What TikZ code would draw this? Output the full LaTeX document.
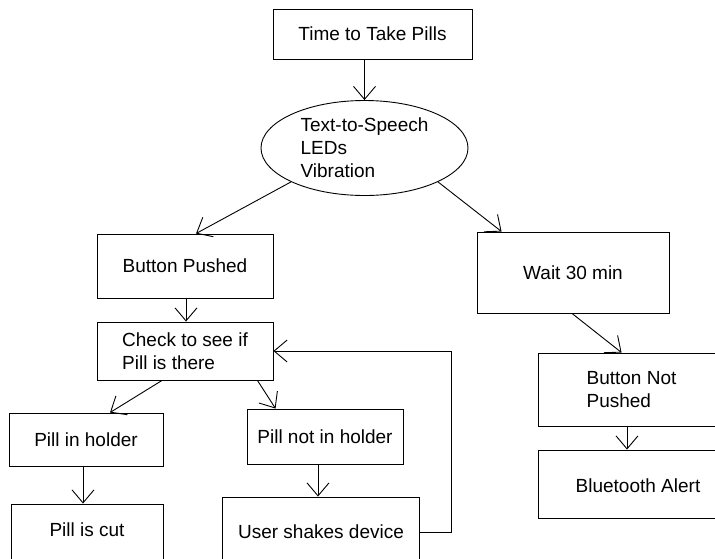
\documentclass[tikz,border=0pt]{standalone}
\usepackage{fontspec}
\setmainfont{Liberation Sans}
\usetikzlibrary{shapes.geometric,arrows.meta}
\begin{document}
\begin{tikzpicture}[x=1pt,y=-1pt,
  every node/.style={font=\fontsize{19}{23}\selectfont, inner sep=0pt},
  box/.style={draw, line width=0.9pt, rectangle},
  txt/.style={},
  conn/.style={line width=0.9pt, -{Straight Barb[length=13pt,width=22pt,line width=0.9pt]}},
  line/.style={line width=0.9pt}]
\useasboundingbox (0,0) rectangle (715,558);
\clip (0,0) rectangle (715,558);
\fill[white] (0,0) rectangle (715,558);

\node[box, minimum width=199, minimum height=50] (time) at (372.5,34) {Time to Take Pills};
\node[draw, line width=0.9pt, ellipse, minimum width=207, minimum height=95, align=left] (ell) at (364.5,148) {Text-to-Speech\\LEDs\\Vibration};

\node[box, minimum width=176, minimum height=64] (bp) at (185,266) {Button Pushed};
\node[box, minimum width=176, minimum height=58, align=left] (check) at (185,351) {Check to see if\\Pill is there};
\node[box, minimum width=154, minimum height=53] (holder) at (86,439.5) {Pill in holder};
\node[box, minimum width=152, minimum height=80] (cut) at (87,544) {};
\node[txt] (cuttxt) at (87,530) {Pill is cut};
\node[box, minimum width=156, minimum height=55] (notin) at (325,436.5) {Pill not in holder};
\node[box, minimum width=197, minimum height=80] (shake) at (320.5,537) {};
\node[txt] (shaketxt) at (321,532) {User shakes device};

\node[box, minimum width=192, minimum height=81] (wait) at (573,272.5) {Wait 30 min};
\node[box, minimum width=187, minimum height=73, align=left] (bnp) at (631.5,389.5) {Button Not\\Pushed};
\node[box, minimum width=187, minimum height=68] (bt) at (631.5,484) {};
\node[txt] (bttxt) at (638,486) {Bluetooth Alert};

\draw[conn] (time.south -| ell.north) -- (ell.north);
\draw[conn] (ell.south west) -- ([xshift=11pt]bp.north);
\draw[conn] (ell.south east) -- ([xshift=25pt]wait.north west);
\draw[conn] ([xshift=1pt]bp.south) -- ([xshift=1pt]check.north);
\draw[conn] ([xshift=-23pt]check.south) -- ([xshift=24pt]holder.north);
\draw[conn] ([xshift=-16pt]check.south east) -- ([xshift=29pt]notin.north west);
\draw[conn] ([xshift=-3pt]holder.south) -- ([xshift=-4pt]cut.north);
\draw[conn] ([xshift=-7pt]notin.south) -- ([xshift=-2.5pt]shake.north);
\draw[conn] (shake.east |- shaketxt) -- ++(32,0) |- (check.east);
\draw[conn] ([xshift=-1pt]wait.south) -- ([xshift=84pt]bnp.north west);
\draw[conn] ([xshift=-4.5pt]bnp.south) -- ([xshift=-4.5pt]bt.north);
\end{tikzpicture}
\end{document}
